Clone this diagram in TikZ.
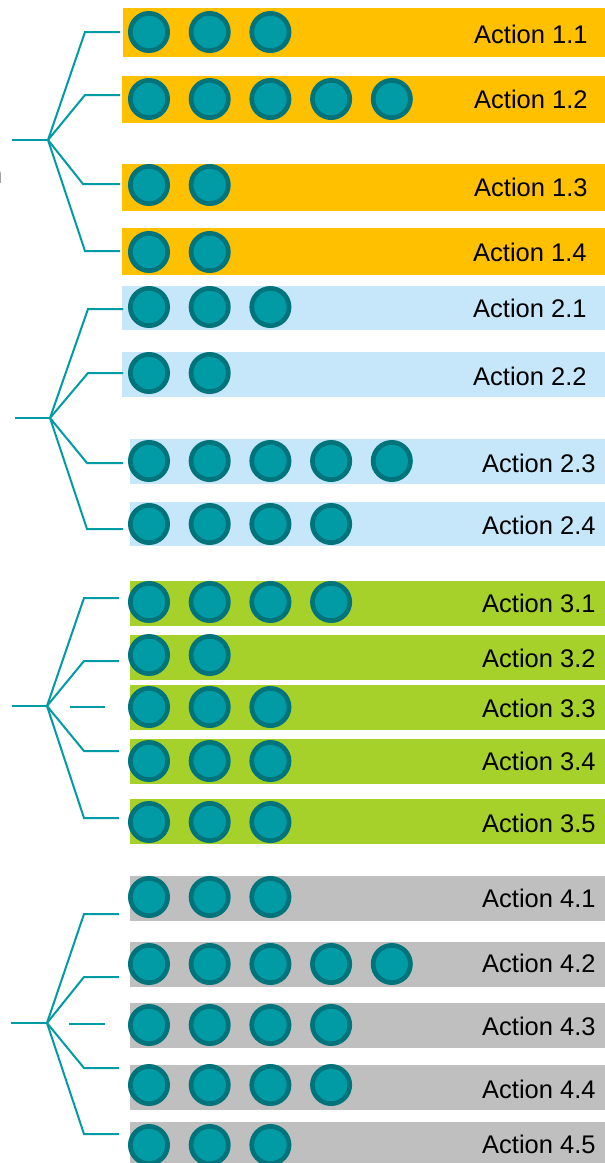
\documentclass[tikz,border=0pt]{standalone}
\usepackage{fontspec}
\setmainfont{Liberation Sans}
\definecolor{yel}{RGB}{255,192,0}
\definecolor{lblue}{RGB}{198,230,250}
\definecolor{lgreen}{RGB}{166,209,42}
\definecolor{lgray}{RGB}{191,191,191}
\definecolor{teal}{RGB}{0,155,165}
\definecolor{ring}{RGB}{0,116,122}
\definecolor{dotin}{RGB}{0,155,165}
\definecolor{darkt}{RGB}{80,80,80}
\newcommand{\actbar}[9]{%
  % #1 name, #2 x0, #3 y0, #4 y1, #5 colour, #6 dots, #7 dot y, #8 label, #9 text x / baseline
  \node[barbox, fill=#5, minimum width={605-#2+2}, minimum height={#4-#3}, anchor=north west] (#1) at (#2,#3) {};
  \foreach \i in {1,...,#6} {\node[dotc] (#1d\i) at ({149+60.7*(\i-1)},#7) {};}
  \node[lbl] (#1t) at (#9) {#8};
}
\begin{document}
\begin{tikzpicture}[x=1pt,y=-1pt,
  barbox/.style={rectangle, inner sep=0pt, outer sep=0pt, draw=none},
  dotc/.style={circle, inner sep=0pt, minimum size=37.3pt, line width=4.7pt, draw=ring, fill=dotin},
  lbl/.style={anchor=base west, inner sep=0pt, font=\fontsize{25.5}{30}\selectfont, text=black},
  tree/.style={draw=teal, line width=2pt}]
\useasboundingbox (0,0) rectangle (605,1163);
\fill[white] (0,0) rectangle (605,1163);
% group 1
\actbar{b11}{123}{8}{57}{yel}{3}{32}{Action 1.1}{474,43}
\actbar{b12}{122}{76}{123}{yel}{5}{99}{Action 1.2}{474,108}
\actbar{b13}{122}{164}{211}{yel}{2}{185}{Action 1.3}{474,196}
\actbar{b14}{122}{228}{275}{yel}{2}{252}{Action 1.4}{473,261}
% group 2
\actbar{b21}{122}{286}{330}{lblue}{3}{307}{Action 2.1}{473,317}
\actbar{b22}{122}{352}{397}{lblue}{2}{373}{Action 2.2}{473,385}
\actbar{b23}{130}{439}{484}{lblue}{5}{461}{Action 2.3}{482,472}
\actbar{b24}{130}{502}{546}{lblue}{4}{524}{Action 2.4}{482,534}
% group 3
\actbar{b31}{130}{581}{626}{lgreen}{4}{602}{Action 3.1}{482,612}
\actbar{b32}{130}{635}{680}{lgreen}{2}{655}{Action 3.2}{482,667}
\actbar{b33}{130}{685}{730}{lgreen}{3}{707}{Action 3.3}{482,717}
\actbar{b34}{130}{739}{784}{lgreen}{3}{761}{Action 3.4}{482,770}
\actbar{b35}{130}{799}{844}{lgreen}{3}{822}{Action 3.5}{482,832}
% group 4
\actbar{b41}{130}{876}{921}{lgray}{3}{897}{Action 4.1}{482,907}
\actbar{b42}{130}{942}{987}{lgray}{5}{964}{Action 4.2}{482,972}
\actbar{b43}{130}{1003}{1048}{lgray}{4}{1025}{Action 4.3}{482,1035}
\actbar{b44}{130}{1065}{1110}{lgray}{4}{1085}{Action 4.4}{482,1098}
\actbar{b45}{130}{1122}{1168}{lgray}{3}{1145}{Action 4.5}{482,1153}
% cut-off text fragment at left edge (only its last stroke lies inside the picture)
\node[anchor=base east, inner sep=0pt, font=\fontsize{25.5}{30}\selectfont, text=darkt] (frag) at (2.6,183) {n};
% tree 1
\coordinate (r1) at (12,140); \coordinate (h1) at (48,140);
\coordinate (e11) at (85,32);  \coordinate (f11) at (120,32);
\coordinate (e12) at (85,95);  \coordinate (f12) at (120,95);
\coordinate (e13) at (83,184); \coordinate (f13) at (120,184);
\coordinate (e14) at (85,251); \coordinate (f14) at (120,251);
\draw[tree] (r1) -- (h1);
\foreach \k in {1,2,3,4} {\draw[tree] (h1) -- (e1\k) -- (f1\k);}
% tree 2
\coordinate (r2) at (15,418); \coordinate (h2) at (50,418);
\coordinate (e21) at (88,309); \coordinate (f21) at (123,309);
\coordinate (e22) at (88,373); \coordinate (f22) at (123,373);
\coordinate (e23) at (87,463); \coordinate (f23) at (123,463);
\coordinate (e24) at (87,529); \coordinate (f24) at (123,529);
\draw[tree] (r2) -- (h2);
\foreach \k in {1,2,3,4} {\draw[tree] (h2) -- (e2\k) -- (f2\k);}
% tree 3
\coordinate (r3) at (12,706); \coordinate (h3) at (47,706);
\coordinate (e31) at (84,598); \coordinate (f31) at (119,598);
\coordinate (e32) at (84,661); \coordinate (f32) at (119,661);
\coordinate (e34) at (84,751); \coordinate (f34) at (119,751);
\coordinate (e35) at (84,818); \coordinate (f35) at (119,818);
\coordinate (s3a) at (70,707); \coordinate (s3b) at (105,707);
\draw[tree] (r3) -- (h3);
\foreach \k in {1,2,4,5} {\draw[tree] (h3) -- (e3\k) -- (f3\k);}
\draw[tree] (s3a) -- (s3b);
% tree 4
\coordinate (r4) at (11,1023); \coordinate (h4) at (47,1023);
\coordinate (e41) at (84,914);  \coordinate (f41) at (119,914);
\coordinate (e42) at (84,977);  \coordinate (f42) at (119,977);
\coordinate (e44) at (84,1068); \coordinate (f44) at (119,1068);
\coordinate (e45) at (84,1134); \coordinate (f45) at (119,1134);
\coordinate (s4a) at (69,1024); \coordinate (s4b) at (105,1024);
\draw[tree] (r4) -- (h4);
\foreach \k in {1,2,4,5} {\draw[tree] (h4) -- (e4\k) -- (f4\k);}
\draw[tree] (s4a) -- (s4b);
\end{tikzpicture}
\end{document}
